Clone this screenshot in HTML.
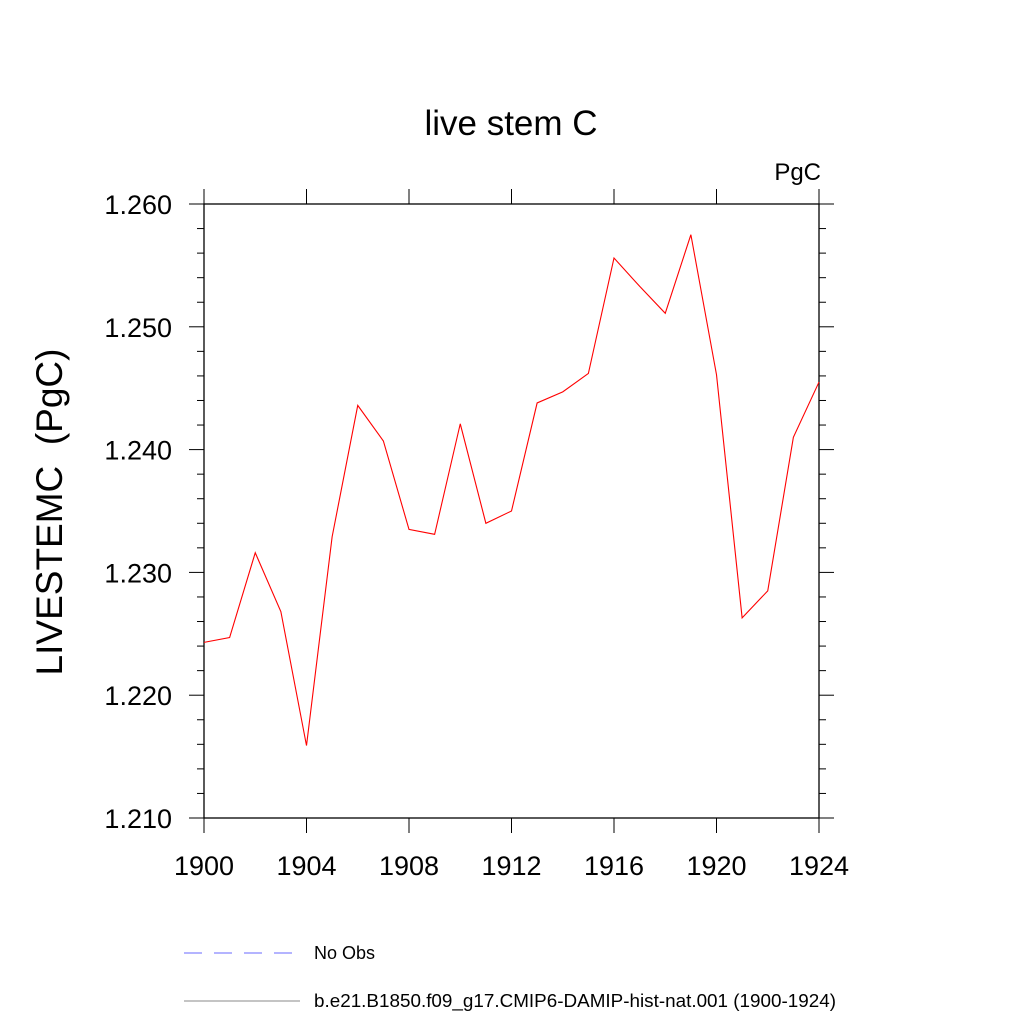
<!DOCTYPE html>
<html><head><meta charset="utf-8"><style>
body{margin:0;background:#fff;}
svg{display:block;font-family:"Liberation Sans",sans-serif;}
</style></head><body>
<svg id="chart" width="1024" height="1024" viewBox="0 0 1024 1024" xmlns="http://www.w3.org/2000/svg">
<rect width="1024" height="1024" fill="#fff"/>
<text x="511" y="135" text-anchor="middle" font-size="35">live stem C</text>
<text x="821" y="180" text-anchor="end" font-size="24">PgC</text>
<text transform="translate(62,512) rotate(-90)" text-anchor="middle" font-size="37" style="white-space:pre">LIVESTEMC  (PgC)</text>
<g id="axes"></g>
<g id="series"></g>
<g>
<line x1="184" y1="953" x2="300" y2="953" stroke="#6a6aff" stroke-width="1" stroke-dasharray="18,12"/>
<text x="314" y="959" font-size="18">No Obs</text>
<line x1="184" y1="1001" x2="300" y2="1001" stroke="#888" stroke-width="1"/>
<text x="314" y="1007" font-size="18" textLength="522" lengthAdjust="spacingAndGlyphs">b.e21.B1850.f09_g17.CMIP6-DAMIP-hist-nat.001 (1900-1924)</text>
</g>
</svg>
<script>
const years=[1900,1901,1902,1903,1904,1905,1906,1907,1908,1909,1910,1911,1912,1913,1914,1915,1916,1917,1918,1919,1920,1921,1922,1923,1924];
const values=[1.2243,1.2247,1.2316,1.2268,1.2159,1.2329,1.2436,1.2407,1.2335,1.2331,1.2421,1.2340,1.2350,1.2438,1.2447,1.2462,1.2556,1.2533,1.2511,1.2575,1.2461,1.2263,1.2285,1.2410,1.2455];
const yTicks=[1.210,1.220,1.230,1.240,1.250,1.260];
const yTickLabels=["1.210","1.220","1.230","1.240","1.250","1.260"];
const xTicks=[1900,1904,1908,1912,1916,1920,1924];
const X0=204,X1=819,Y0=818,Y1=204;
const xs=v=>X0+(v-1900)/(1924-1900)*(X1-X0);
const ys=v=>Y0-(v-1.21)/(1.26-1.21)*(Y0-Y1);
const NS="http://www.w3.org/2000/svg";
const axes=document.getElementById('axes'),ser=document.getElementById('series');
function mk(p,tag,attrs){const e=document.createElementNS(NS,tag);for(const k in attrs)e.setAttribute(k,attrs[k]);p.appendChild(e);return e;}
const frame=mk(axes,'rect',{x:X0,y:Y1,width:X1-X0,height:Y0-Y1,fill:'none',stroke:'#000','stroke-width':1.3});


for(let k=0;k<=25;k++){
  const v=1.21+k*0.002;
  const y=ys(v);const major=(k%5===0);
  const len=major?15:7;
  const t1=mk(axes,'line',{x1:X0-len,y1:y,x2:X0,y2:y,stroke:'#000','stroke-width':1});
  
  
  const t2=mk(axes,'line',{x1:X1,y1:y,x2:X1+len,y2:y,stroke:'#000','stroke-width':1});
  
  
}
yTicks.forEach((v,i)=>{
  const t=mk(axes,'text',{x:172,y:ys(v)+10,'text-anchor':'end','font-size':27});
  t.textContent=yTickLabels[i];
  
  
});
xTicks.forEach(v=>{
  const x=xs(v);
  const a=mk(axes,'line',{x1:x,y1:Y0,x2:x,y2:Y0+15,stroke:'#000','stroke-width':1});
  
  
  const b=mk(axes,'line',{x1:x,y1:Y1-15,x2:x,y2:Y1,stroke:'#000','stroke-width':1});
  
  
  const t=mk(axes,'text',{x:x,y:Y0+57,'text-anchor':'middle','font-size':27});
  t.textContent=String(v);
  
  
});
const pts=years.map((yr,i)=>xs(yr)+','+ys(values[i])).join(' ');
const line=mk(ser,'polyline',{points:pts,fill:'none',stroke:'#ff0000','stroke-width':1.1});


</script>
</body></html>
